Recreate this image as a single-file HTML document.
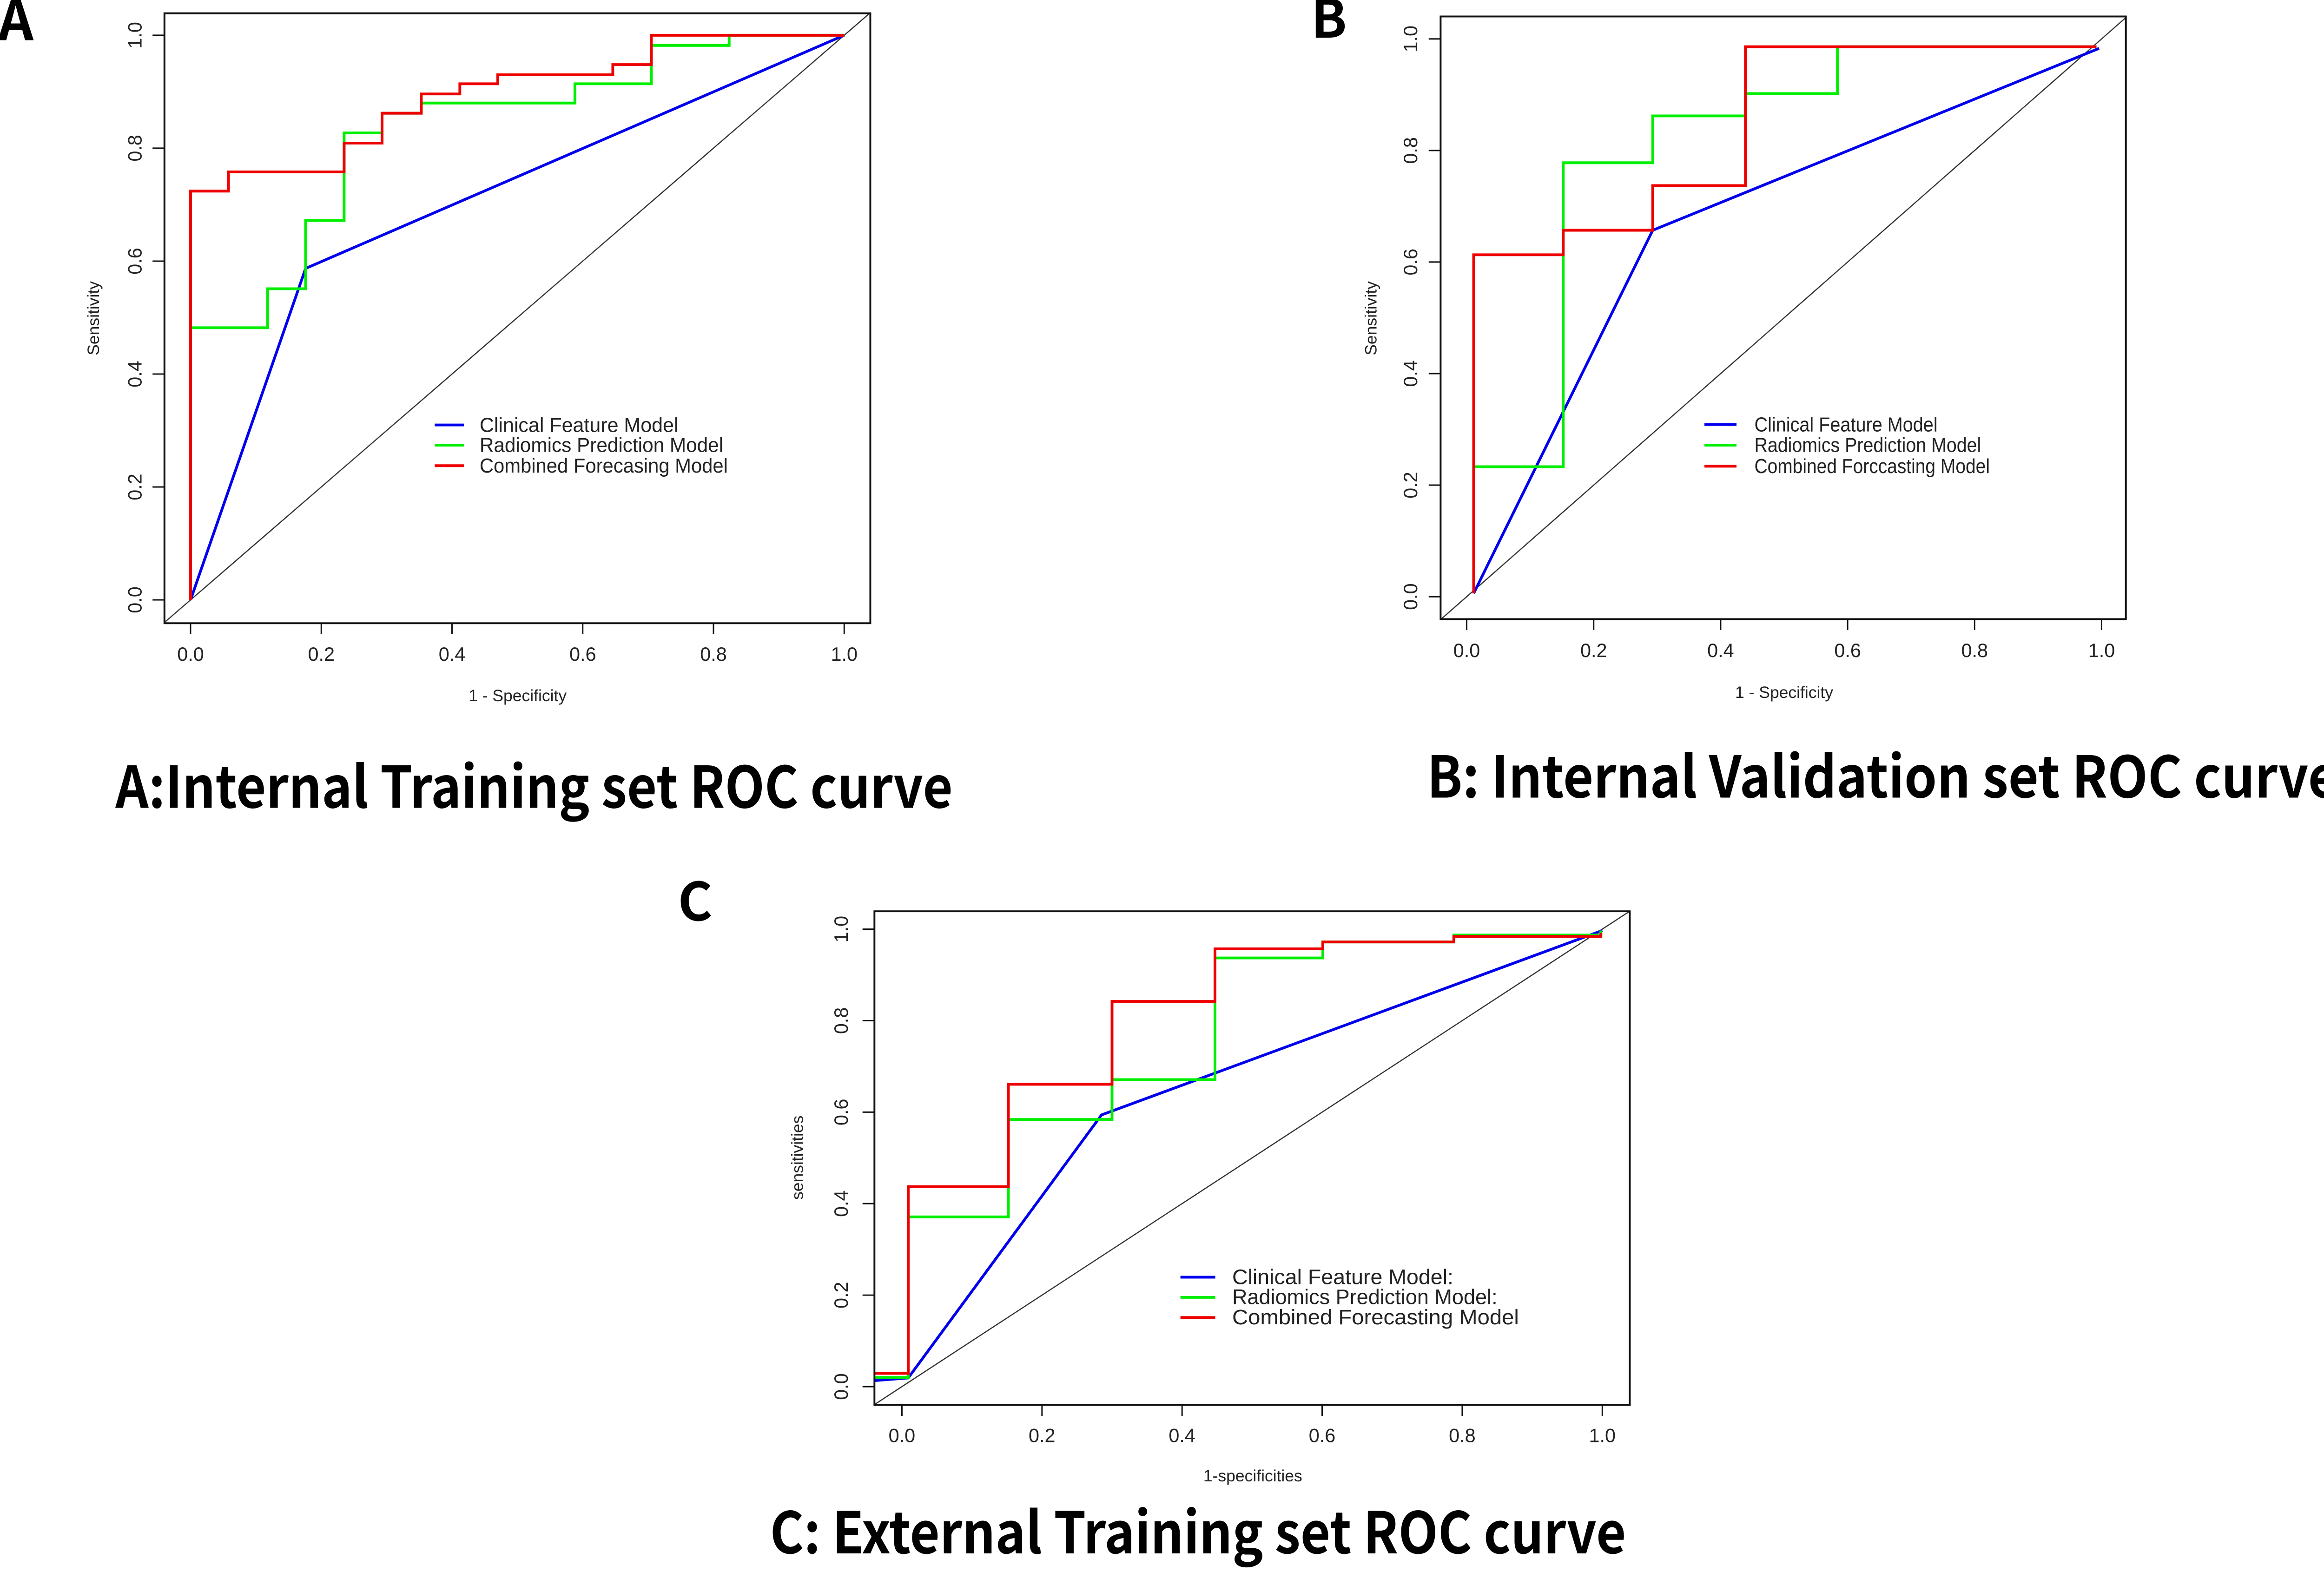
<!DOCTYPE html>
<html><head><meta charset="utf-8"><style>
html,body{margin:0;padding:0;background:#fff;}
svg{display:block;}
text{font-family:"Liberation Sans",Arial,sans-serif;fill:#222;}
.cap{font-family:"Noto Sans CJK SC","Liberation Sans",sans-serif;font-weight:bold;fill:#000;}
</style></head>
<body>
<svg id="fig" width="5072" height="3411" viewBox="0 0 5072 3411" xmlns="http://www.w3.org/2000/svg">
<rect width="5072" height="3411" fill="#fff"/>
<g id="root" transform="scale(0.9855)">
<text class="cap" x="-4" y="88" font-size="120">A</text>
<text class="cap" x="2862" y="82" font-size="115">B</text>
<text class="cap" x="1480" y="2010" font-size="115">C</text>
<text class="cap" x="252" y="1764" font-size="125" textLength="1828" lengthAdjust="spacingAndGlyphs">A:Internal Training set ROC curve</text>
<text class="cap" x="3115" y="1742" font-size="125" textLength="1990" lengthAdjust="spacingAndGlyphs">B: Internal Validation set ROC curve</text>
<text class="cap" x="1681" y="3392" font-size="125" textLength="1869" lengthAdjust="spacingAndGlyphs">C: External Training set ROC curve</text>
</g>
</svg>
<script>
// ---- Data ----
const xTickLabels = ["0.0","0.2","0.4","0.6","0.8","1.0"];
const yTickLabels = ["0.0","0.2","0.4","0.6","0.8","1.0"];
const tickValues = [0,0.2,0.4,0.6,0.8,1.0];
const seriesNames = ["clinical","radiomics","combined"];

const aClinicalFpr = [0,0.176,1];
const aClinicalTpr = [0,0.587,1];
const aRadiomicsFpr = [0,0,0.118,0.118,0.176,0.176,0.235,0.235,0.293,0.293,0.353,0.353,0.588,0.588,0.705,0.705,0.824,0.824,1];
const aRadiomicsTpr = [0,0.482,0.482,0.551,0.551,0.672,0.672,0.827,0.827,0.862,0.862,0.88,0.88,0.914,0.914,0.982,0.982,1,1];
const aCombinedFpr = [0,0,0.058,0.058,0.235,0.235,0.293,0.293,0.353,0.353,0.412,0.412,0.47,0.47,0.646,0.646,0.705,0.705,1];
const aCombinedTpr = [0,0.724,0.724,0.758,0.758,0.809,0.809,0.862,0.862,0.896,0.896,0.914,0.914,0.930,0.930,0.948,0.948,1,1];

const bClinicalFpr = [0.011,0.293,0.996];
const bClinicalTpr = [0.006,0.657,0.983];
const bRadiomicsFpr = [0.011,0.011,0.152,0.152,0.293,0.293,0.439,0.439,0.584,0.584,0.992];
const bRadiomicsTpr = [0.006,0.233,0.233,0.778,0.778,0.862,0.862,0.902,0.902,0.986,0.986];
const bCombinedFpr = [0.011,0.011,0.152,0.152,0.293,0.293,0.439,0.439,0.992];
const bCombinedTpr = [0.006,0.613,0.613,0.657,0.657,0.737,0.737,0.986,0.986];

const cClinicalFpr = [-0.04,0.009,0.285,1.0];
const cClinicalTpr = [0.013,0.019,0.594,0.997];
const cRadiomicsFpr = [-0.04,0.009,0.009,0.152,0.152,0.300,0.300,0.447,0.447,0.601,0.601,0.788,0.788,0.998,0.998];
const cRadiomicsTpr = [0.02,0.02,0.371,0.371,0.584,0.584,0.671,0.671,0.937,0.937,0.972,0.972,0.987,0.987,0.997];
const cCombinedFpr = [-0.04,0.009,0.009,0.152,0.152,0.300,0.300,0.447,0.447,0.601,0.601,0.788,0.788,0.998,0.998];
const cCombinedTpr = [0.029,0.029,0.437,0.437,0.661,0.661,0.842,0.842,0.957,0.957,0.972,0.972,0.984,0.984,0.992];

const legendA = ["Clinical Feature Model","Radiomics Prediction Model","Combined Forecasing Model"];
const legendB = ["Clinical Feature Model","Radiomics Prediction Model","Combined Forccasting Model"];
const legendC = ["Clinical Feature Model:","Radiomics Prediction Model:","Combined Forecasting Model"];

// ---- Layout ----
const NS = "http://www.w3.org/2000/svg";
const root = document.getElementById('root');
const colors = ["#0000ee","#00ee00","#ee0000"];

const panels = [
 {id:"a", box:[359,29,1900,1361], x0:416,x1:1843, y0:1310,y1:77, tickLabY:1428, yTickLabX:294,
  xLabel:"1 - Specificity", xLabX:1130, xLabY:1519, yLabel:"Sensitivity", yLabX:204, yLabY:695,
  leg:[949,1013,1047,[928,972,1017]], legW:[434,532,542], legFs:44, tickFs:42, labFs:36,
  series:[[aClinicalFpr,aClinicalTpr],[aRadiomicsFpr,aRadiomicsTpr],[aCombinedFpr,aCombinedTpr]], legend:legendA},
 {id:"b", box:[3145,36,4641,1352], x0:3202,x1:4588, y0:1303,y1:85, tickLabY:1420, yTickLabX:3079,
  xLabel:"1 - Specificity", xLabX:3895, xLabY:1512, yLabel:"Sensitivity", yLabX:2993, yLabY:695,
  leg:[3721,3791,3830,[927,972,1018]], legW:[400,495,514], legFs:44, tickFs:42, labFs:36,
  series:[[bClinicalFpr,bClinicalTpr],[bRadiomicsFpr,bRadiomicsTpr],[bCombinedFpr,bCombinedTpr]], legend:legendB},
 {id:"c", box:[1909,1990,3558,3068], x0:1969,x1:3498, y0:3028,y1:2029, tickLabY:3134, yTickLabX:1836,
  xLabel:"1-specificities", xLabX:2735, xLabY:3223, yLabel:"sensitivities", yLabX:1741, yLabY:2528,
  leg:[2577,2653,2690,[2789,2833,2877]], legW:[483,579,626], legFs:46, tickFs:42, labFs:36,
  series:[[cClinicalFpr,cClinicalTpr],[cRadiomicsFpr,cRadiomicsTpr],[cCombinedFpr,cCombinedTpr]], legend:legendC}
];

function mk(tag, attrs){ const e=document.createElementNS(NS,tag); for(const k in attrs) e.setAttribute(k,attrs[k]); return e; }

panels.forEach(p=>{
  const g = mk('g',{});
  
  
  root.appendChild(g);
  const sx = v => p.x0 + v*(p.x1-p.x0);
  const sy = v => p.y0 + v*(p.y1-p.y0);
  const [L,T,R,B] = p.box;
  const cp = mk('clipPath',{id:'clip-'+p.id});
  cp.appendChild(mk('rect',{x:L,y:T,width:R-L,height:B-T}));
  g.appendChild(cp);
  const dminX = (L-p.x0)/(p.x1-p.x0), dmaxX=(R-p.x0)/(p.x1-p.x0);
  const dl = mk('line',{x1:sx(dminX),y1:sy(dminX),x2:sx(dmaxX),y2:sy(dmaxX),stroke:'#333','stroke-width':2.5,'clip-path':'url(#clip-'+p.id+')'});
  
  
  g.appendChild(dl);
  p.series.forEach((s,i)=>{
    const pts = s[0].map((fx,j)=> sx(fx).toFixed(1)+','+sy(s[1][j]).toFixed(1)).join(' ');
    const pl = mk('polyline',{points:pts,fill:'none',stroke:colors[i],'stroke-width':6,'stroke-linejoin':'miter','clip-path':'url(#clip-'+p.id+')'});
    
    
    g.appendChild(pl);
  });
  const fr = mk('rect',{x:L,y:T,width:R-L,height:B-T,fill:'none',stroke:'#111','stroke-width':4});
  
  
  g.appendChild(fr);
  tickValues.forEach((v,i)=>{
    const x=sx(v);
    const t=mk('line',{x1:x,y1:B,x2:x,y2:B+24,stroke:'#111','stroke-width':3});
    
    
    g.appendChild(t);
    const tl=mk('text',{x:x,y:p.tickLabY+15,'text-anchor':'middle','font-size':p.tickFs});
    tl.textContent=xTickLabels[i];
    
    
    g.appendChild(tl);
  });
  tickValues.forEach((v,i)=>{
    const y=sy(v);
    const t=mk('line',{x1:L,y1:y,x2:L-26,y2:y,stroke:'#111','stroke-width':3});
    
    
    g.appendChild(t);
    const tl=mk('text',{x:0,y:0,'text-anchor':'middle','font-size':p.tickFs,transform:'translate('+(p.yTickLabX+15)+','+y+') rotate(-90)'});
    tl.textContent=yTickLabels[i];
    
    
    g.appendChild(tl);
  });
  const xl=mk('text',{x:p.xLabX,y:p.xLabY+12,'text-anchor':'middle','font-size':p.labFs});
  xl.textContent=p.xLabel;
  
  
  g.appendChild(xl);
  const yl=mk('text',{x:0,y:0,'text-anchor':'middle','font-size':p.labFs,transform:'translate('+(p.yLabX+12)+','+p.yLabY+') rotate(-90)'});
  yl.textContent=p.yLabel;
  
  
  g.appendChild(yl);
  const [lx1,lx2,tx,rows]=p.leg;
  p.legend.forEach((name,i)=>{
    const ln=mk('line',{x1:lx1,y1:rows[i],x2:lx2,y2:rows[i],stroke:colors[i],'stroke-width':6});
    
    
    g.appendChild(ln);
    const lt=mk('text',{x:tx,y:rows[i]+15,'font-size':p.legFs,textLength:p.legW[i],lengthAdjust:'spacingAndGlyphs'});
    lt.textContent=name;
    
    
    g.appendChild(lt);
  });
});
</script>
</body></html>
